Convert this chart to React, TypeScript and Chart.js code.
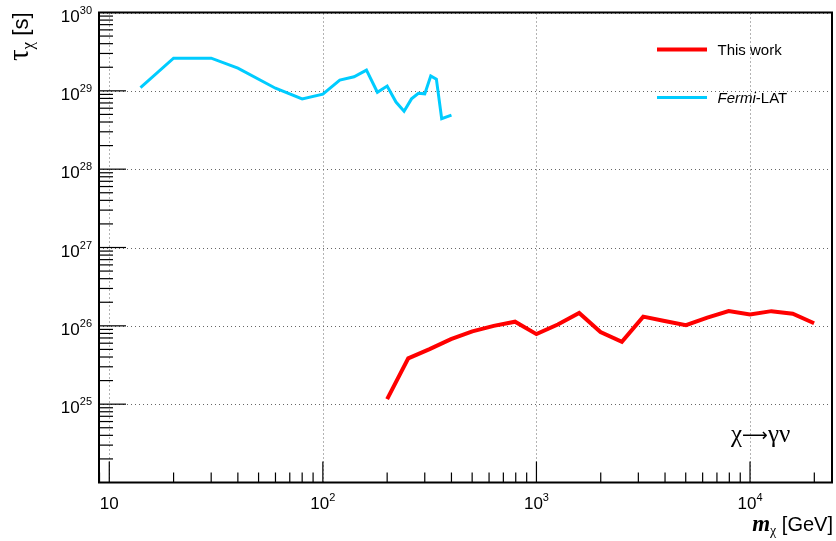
import React, { useEffect, useRef } from 'react';
import { Chart, registerables } from 'chart.js';

Chart.register(...registerables);

// ---- data ----
const fermiMass = [14, 20, 30, 40, 60, 80, 100, 120, 140, 160, 180, 200, 220, 240, 260, 280, 300, 320, 340, 360, 400];
const fermiTau = [1.1e29, 2.61e29, 2.61e29, 1.95e29, 1.08e29, 7.9e28, 9.06e28, 1.37e29, 1.51e29, 1.84e29, 9.6e28, 1.15e29, 7.2e28, 5.5e28, 7.9e28, 9.3e28, 9.15e28, 1.55e29, 1.41e29, 4.4e28, 4.9e28];

const thisMass = [200, 251, 316, 398, 501, 631, 794, 1000, 1259, 1585, 1995, 2512, 3162, 3981, 5012, 6310, 7943, 10000, 12589, 15849, 19953];
const thisTau = [1.16e25, 3.84e25, 5.05e25, 6.77e25, 8.49e25, 1.0e26, 1.13e26, 7.84e25, 1.04e26, 1.46e26, 8.32e25, 6.25e25, 1.31e26, 1.15e26, 1.02e26, 1.27e26, 1.54e26, 1.4e26, 1.54e26, 1.43e26, 1.08e26];

const xTickValues = [10, 100, 1000, 10000];
const xTickExp = ['', '2', '3', '4'];
const yTickValues = [1e25, 1e26, 1e27, 1e28, 1e29, 1e30];
const yTickExp = ['25', '26', '27', '28', '29', '30'];

const seriesLabels = ['This work', 'Fermi-LAT'];
const seriesColors = ['#ff0000', '#00ccff'];

const SANS = '"Liberation Sans", Arial, sans-serif';
const SERIF = '"Liberation Serif", "Times New Roman", serif';

type Piece = { t: string; font: string; dy?: number };

function drawPieces(ctx: CanvasRenderingContext2D, pieces: Piece[], x: number, y: number, align: 'left' | 'right' | 'center') {
  ctx.textAlign = 'left';
  ctx.textBaseline = 'alphabetic';
  const widths = pieces.map((p) => {
    ctx.font = p.font;
    return ctx.measureText(p.t).width;
  });
  const total = widths.reduce((a, b) => a + b, 0);
  let cx = align === 'left' ? x : align === 'right' ? x - total : x - total / 2;
  pieces.forEach((p, i) => {
    ctx.font = p.font;
    ctx.fillText(p.t, cx, y + (p.dy || 0));
    cx += widths[i];
  });
}

const rootStyle = {
  id: 'rootStyle',
  beforeDatasetsDraw(chart: any) {
    const { ctx, chartArea: a, scales } = chart;
    const x = scales.x;
    const y = scales.y;
    ctx.save();
    ctx.strokeStyle = '#666';
    ctx.lineWidth = 1;
    ctx.setLineDash([1, 3]);
    for (const v of xTickValues) {
      const px = Math.round(x.getPixelForValue(v)) + 0.5;
      ctx.beginPath();
      ctx.moveTo(px, a.bottom);
      ctx.lineTo(px, a.top);
      ctx.stroke();
    }
    for (const v of yTickValues) {
      const py = Math.round(y.getPixelForValue(v)) + 0.5;
      ctx.beginPath();
      ctx.moveTo(a.left, py);
      ctx.lineTo(a.right, py);
      ctx.stroke();
    }
    ctx.restore();
  },
  afterDatasetsDraw(chart: any) {
    const { ctx, chartArea: a, scales } = chart;
    const x = scales.x;
    const y = scales.y;
    ctx.save();
    ctx.setLineDash([]);
    ctx.strokeStyle = '#000';
    ctx.fillStyle = '#000';

    // frame
    ctx.lineWidth = 2;
    ctx.strokeRect(a.left, a.top, a.right - a.left, a.bottom - a.top);

    // ticks
    ctx.lineWidth = 1.2;
    const xmin = x.min, xmax = x.max, ymin = y.min, ymax = y.max;
    for (let e = 0; e <= 5; e++) {
      for (let d = 1; d <= 9; d++) {
        const v = d * Math.pow(10, e);
        if (v <= xmin || v >= xmax) continue;
        const px = x.getPixelForValue(v);
        const len = d === 1 ? 21 : 10;
        ctx.beginPath();
        ctx.moveTo(px, a.bottom);
        ctx.lineTo(px, a.bottom - len);
        ctx.stroke();
      }
    }
    for (let e = 23; e <= 30; e++) {
      for (let d = 1; d <= 9; d++) {
        const v = d * Math.pow(10, e);
        if (v <= ymin * 1.0001 || v >= ymax * 0.9999) continue;
        const py = y.getPixelForValue(v);
        const len = d === 1 ? 27 : 14;
        ctx.beginPath();
        ctx.moveTo(a.left, py);
        ctx.lineTo(a.left + len, py);
        ctx.stroke();
      }
    }

    // tick labels
    const baseFont = `17px ${SANS}`;
    const expFont = `11px ${SANS}`;
    xTickValues.forEach((v, i) => {
      const px = x.getPixelForValue(v);
      const pieces: Piece[] = [{ t: '10', font: baseFont }];
      if (xTickExp[i]) pieces.push({ t: xTickExp[i], font: expFont, dy: -7.5 });
      drawPieces(ctx, pieces, px, 508.5, 'center');
    });
    yTickValues.forEach((v, i) => {
      const py = y.getPixelForValue(v);
      drawPieces(ctx, [{ t: '10', font: baseFont }, { t: yTickExp[i], font: expFont, dy: -8 }], 92, py + 9, 'right');
    });

    // axis titles
    drawPieces(
      ctx,
      [
        { t: 'm', font: `bold italic 23px ${SERIF}` },
        { t: 'χ', font: `14px ${SERIF}`, dy: 4 },
        { t: ' [GeV]', font: `20px ${SANS}` },
      ],
      833,
      531,
      'right'
    );
    ctx.save();
    ctx.translate(28, 12.5);
    ctx.rotate(-Math.PI / 2);
    drawPieces(
      ctx,
      [
        { t: 'τ', font: `29px ${SERIF}` },
        { t: 'χ', font: `17px ${SERIF}`, dy: 5 },
        { t: ' [s]', font: `22px ${SANS}` },
      ],
      0,
      0,
      'right'
    );
    ctx.restore();

    // process label
    drawPieces(
      ctx,
      [
        { t: 'χ', font: `25px ${SERIF}` },
        { t: '⟶', font: `18px "DejaVu Sans", sans-serif`, dy: -1 },
        { t: 'γν', font: `25px ${SERIF}` },
      ],
      731,
      442,
      'left'
    );

    // legend
    const legY = [49.5, 97.5];
    const legText: Piece[][] = [
      [{ t: seriesLabels[0], font: `15px ${SANS}` }],
      [
        { t: seriesLabels[1].split('-')[0], font: `italic 15px ${SANS}` },
        { t: '-' + seriesLabels[1].split('-')[1], font: `15px ${SANS}` },
      ],
    ];
    const legWidth = [4, 3];
    legY.forEach((ly, i) => {
      ctx.strokeStyle = seriesColors[i];
      ctx.lineWidth = legWidth[i];
      ctx.beginPath();
      ctx.moveTo(657, ly);
      ctx.lineTo(707, ly);
      ctx.stroke();
      ctx.fillStyle = '#000';
      drawPieces(ctx, legText[i], 717.5, ly + 5.5, 'left');
    });

    ctx.restore();
  },
};

export default function App() {
  const ref = useRef<HTMLCanvasElement | null>(null);
  useEffect(() => {
    if (!ref.current) return;
    const chart = new Chart(ref.current, {
      type: 'line',
      data: {
        datasets: [
          {
            label: seriesLabels[0],
            data: thisMass.map((m, i) => ({ x: m, y: thisTau[i] })),
            borderColor: seriesColors[0],
            borderWidth: 4,
            pointRadius: 0,
            tension: 0,
            fill: false,
          },
          {
            label: seriesLabels[1],
            data: fermiMass.map((m, i) => ({ x: m, y: fermiTau[i] })),
            borderColor: seriesColors[1],
            borderWidth: 3,
            pointRadius: 0,
            tension: 0,
            fill: false,
          },
        ],
      },
      options: {
        responsive: false,
        animation: false,
        devicePixelRatio: 1,
        layout: { padding: { left: 99, right: 4, top: 12.5, bottom: 58.5 } },
        plugins: { legend: { display: false }, tooltip: { enabled: false } },
        scales: {
          x: { type: 'logarithmic', min: 8.951, max: 24200, display: false },
          y: { type: 'logarithmic', min: 1e24, max: 1e30, display: false },
        },
      },
      plugins: [rootStyle],
    } as any);
    return () => chart.destroy();
  }, []);
  return (
    <div style={{ position: 'fixed', left: 0, top: 0, width: 836, height: 541, background: '#fff' }}>
      <canvas ref={ref} width={836} height={541} style={{ width: 836, height: 541, display: 'block' }} />
    </div>
  );
}
